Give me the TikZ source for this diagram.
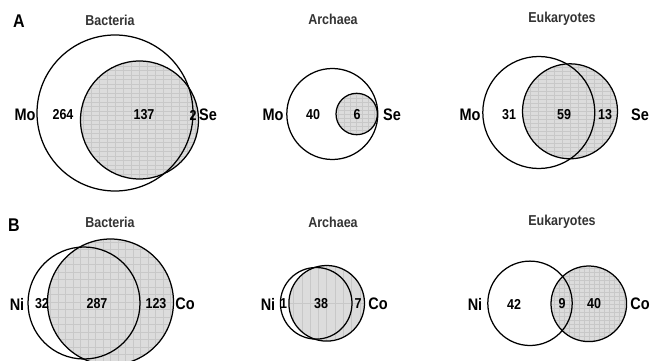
\documentclass[tikz,border=0pt]{standalone}
\usepackage{fontspec}
\usepackage{graphicx}
\setmainfont{Liberation Sans}
\definecolor{shadegray}{HTML}{DCDCDC}
\definecolor{gridgray}{HTML}{C8C8C8}
\definecolor{titlegray}{HTML}{333333}
\newcommand{\vstr}[1]{\scalebox{1}[1.15]{#1}}
\begin{document}
\begin{tikzpicture}[x=1pt,y=-1pt,
  ring/.style={circle, draw=black, line width=1.25pt, inner sep=0pt, minimum size=#1},
  hatched/.style 2 args={fill=shadegray, path picture={\draw[gridgray, line width=0.45pt] (path picture bounding box.south west) grid[xstep=#1, ystep=#2] (path picture bounding box.north east);}},
  panel/.style={font=\fontsize{16}{18}\selectfont\bfseries, text=black, inner sep=0pt},
  title/.style={font=\fontsize{12.5}{14}\selectfont\bfseries, text=titlegray, inner sep=0pt},
  elem/.style={font=\fontsize{14.5}{16}\selectfont\bfseries, text=black, inner sep=0pt},
  num/.style={font=\fontsize{12.5}{14}\selectfont\bfseries, text=black, inner sep=0pt}]
\useasboundingbox (0,0) rectangle (650,361);

% ---------- Panel A ----------
\node[panel] (lA) at (19,21) {\vstr{A}};
\node[title] (tA1) at (110,20) {\vstr{Bacteria}};
\node[title] (tA2) at (333,19) {\vstr{Archaea}};
\node[title] (tA3) at (562,19) {\vstr{Eukaryotes}};

% Bacteria A
\node[ring=118pt, hatched={8pt}{4.5pt}] (seA1) at (139.5,120) {};
\node[ring=156pt] (moA1) at (115,113) {};
% Archaea A
\node[ring=41.4pt, hatched={6pt}{4pt}] (seA2) at (356.7,114) {};
\node[ring=91pt] (moA2) at (332.3,114) {};
% Eukaryotes A
\node[ring=95pt, hatched={8pt}{4pt}] (seA3) at (570,111.3) {};
\node[ring=112pt] (moA3) at (538.8,112.5) {};

\node[elem] (moL1) at (25,115) {\vstr{Mo}};
\node[num] (nA11) at (63,115) {\vstr{264}};
\node[num] (nA12) at (144,115) {\vstr{137}};
\node[num] (nA13) at (193,115) {\vstr{2}};
\node[elem] (seL1) at (208,115) {\vstr{Se}};

\node[elem] (moL2) at (273,115) {\vstr{Mo}};
\node[num] (nA21) at (313,115) {\vstr{40}};
\node[num] (nA22) at (357,115) {\vstr{6}};
\node[elem] (seL2) at (392,115) {\vstr{Se}};

\node[elem] (moL3) at (470,115) {\vstr{Mo}};
\node[num] (nA31) at (509,115) {\vstr{31}};
\node[num] (nA32) at (564,115) {\vstr{59}};
\node[num] (nA33) at (605,115) {\vstr{13}};
\node[elem] (seL3) at (640,115) {\vstr{Se}};

% ---------- Panel B ----------
\node[panel] (lB) at (14,225) {\vstr{B}};
\node[title] (tB1) at (110,222) {\vstr{Bacteria}};
\node[title] (tB2) at (333,222) {\vstr{Archaea}};
\node[title] (tB3) at (562,222) {\vstr{Eukaryotes}};

% Bacteria B
\node[ring=126pt, hatched={7.5pt}{7.5pt}] (coB1) at (110.5,302) {};
\node[ring=112pt] (niB1) at (84,303) {};
% Archaea B
\node[ring=75.6pt, hatched={8.3pt}{500pt}] (coB2) at (326.7,303.3) {};
\node[ring=71.6pt] (niB2) at (316.2,303.3) {};
% Eukaryotes B
\node[ring=75.6pt, hatched={5pt}{4pt}] (coB3) at (588.8,303.8) {};
\node[ring=84.4pt] (niB3) at (530,303.3) {};

\node[elem] (niL1) at (17,304) {\vstr{Ni}};
\node[num] (nB11) at (42,304) {\vstr{32}};
\node[num] (nB12) at (97,304) {\vstr{287}};
\node[num] (nB13) at (156,304) {\vstr{123}};
\node[elem] (coL1) at (185,304) {\vstr{Co}};

\node[elem] (niL2) at (268,304) {\vstr{Ni}};
\node[num] (nB21) at (283.5,304) {\vstr{1}};
\node[num] (nB22) at (321,304) {\vstr{38}};
\node[num] (nB23) at (358,304) {\vstr{7}};
\node[elem] (coL2) at (378,304) {\vstr{Co}};

\node[elem] (niL3) at (475,304) {\vstr{Ni}};
\node[num] (nB31) at (514,304) {\vstr{42}};
\node[num] (nB32) at (562,304) {\vstr{9}};
\node[num] (nB33) at (594,304) {\vstr{40}};
\node[elem] (coL3) at (640,304) {\vstr{Co}};
\end{tikzpicture}
\end{document}
